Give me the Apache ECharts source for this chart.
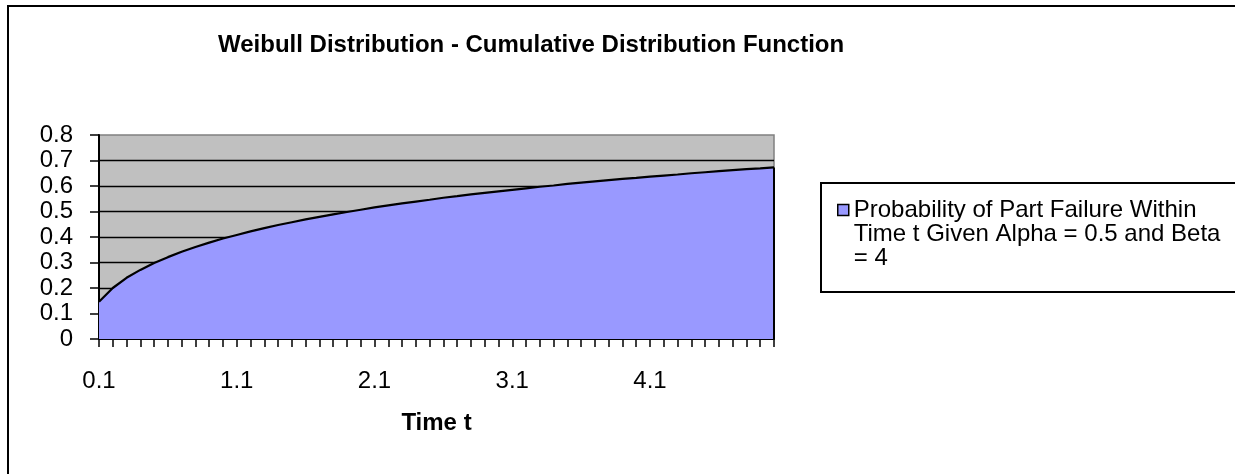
<!DOCTYPE html>
<html>
<head>
<meta charset="utf-8">
<title>Weibull Distribution - Cumulative Distribution Function</title>
<script src="https://cdn.jsdelivr.net/npm/echarts@6/dist/echarts.min.js"></script>
<style>
  html, body { margin: 0; padding: 0; background: #ffffff; }
  #chart { width: 1235px; height: 474px; }
</style>
</head>
<body>
<div id="chart"></div>
<script>
// Time values (category axis)
const timeCategories = [
  '0.1','0.2','0.3','0.4','0.5','0.6','0.7','0.8','0.9','1.0',
  '1.1','1.2','1.3','1.4','1.5','1.6','1.7','1.8','1.9','2.0',
  '2.1','2.2','2.3','2.4','2.5','2.6','2.7','2.8','2.9','3.0',
  '3.1','3.2','3.3','3.4','3.5','3.6','3.7','3.8','3.9','4.0',
  '4.1','4.2','4.3','4.4','4.5','4.6','4.7','4.8','4.9','5.0'
];

// Probability of part failure within time t (alpha = 0.5, beta = 4)
const failureProbability = [
  0.146, 0.200, 0.240, 0.271, 0.298, 0.321, 0.342, 0.361, 0.378, 0.394,
  0.408, 0.422, 0.435, 0.447, 0.458, 0.469, 0.479, 0.489, 0.498, 0.507,
  0.516, 0.524, 0.532, 0.539, 0.546, 0.554, 0.560, 0.567, 0.573, 0.579,
  0.585, 0.591, 0.597, 0.602, 0.608, 0.613, 0.618, 0.623, 0.628, 0.632,
  0.637, 0.641, 0.645, 0.650, 0.654, 0.658, 0.662, 0.666, 0.669, 0.673
];

// Value axis range and tick step
const yMin = 0;
const yMax = 0.8;
const yStep = 0.1;

const seriesName = 'Probability of Part Failure Within Time t Given Alpha = 0.5 and Beta = 4';
const legendLines = ['Probability of Part Failure Within', 'Time t Given Alpha = 0.5 and Beta', '= 4'];

const FONT = "'Liberation Sans', Arial, Helvetica, sans-serif";

const chart = echarts.init(document.getElementById('chart'), null, { renderer: 'canvas' });

const lastIdx = timeCategories.length - 1;

chart.setOption({
  animation: false,
  backgroundColor: '#ffffff',
  textStyle: { fontFamily: FONT, color: '#000' },
  title: {
    text: 'Weibull Distribution - Cumulative Distribution Function',
    left: 218,
    top: 33,
    padding: 0,
    textStyle: { fontFamily: FONT, fontSize: 24, fontWeight: 'bold', color: '#000' }
  },
  graphic: [
    {
      // outer chart frame
      type: 'rect',
      z: -10,
      silent: true,
      shape: { x: 8, y: 6, width: 2000, height: 1000 },
      style: { fill: 'none', stroke: '#000', lineWidth: 2 }
    },
    {
      // legend frame
      type: 'rect',
      z: -5,
      silent: true,
      shape: { x: 821, y: 183, width: 1000, height: 109 },
      style: { fill: '#fff', stroke: '#000', lineWidth: 2 }
    }
  ],
  legend: {
    left: 837,
    top: 150,
    padding: 0,
    orient: 'vertical',
    icon: 'rect',
    itemWidth: 11,
    itemHeight: 11,
    selectedMode: false,
    itemStyle: { borderColor: '#000', borderWidth: 1.5 },
    // two blank lines above keep the marker level with the first text line
    formatter: () => '\n\n' + legendLines.join('\n'),
    textStyle: {
      fontFamily: FONT,
      fontSize: 24,
      lineHeight: 24,
      color: '#000'
    },
    data: [seriesName]
  },
  grid: {
    left: 99,
    top: 135,
    right: 461,
    bottom: 135,
    show: true,
    backgroundColor: '#c0c0c0',
    borderColor: '#808080',
    borderWidth: 1.5,
    containLabel: false
  },
  xAxis: {
    type: 'category',
    data: timeCategories,
    boundaryGap: false,
    name: 'Time t',
    nameLocation: 'middle',
    nameGap: 72,
    nameTextStyle: { fontFamily: FONT, fontSize: 24, fontWeight: 'bold', color: '#000' },
    axisLine: { show: true, lineStyle: { color: '#000', width: 2 } },
    axisTick: { show: true, interval: 0, length: 8, lineStyle: { color: '#000', width: 1.5 } },
    axisLabel: { interval: 9, margin: 30, fontFamily: FONT, fontSize: 24, color: '#000' },
    splitLine: { show: false }
  },
  yAxis: {
    type: 'value',
    min: yMin,
    max: yMax,
    interval: yStep,
    axisLine: { show: true, lineStyle: { color: '#000', width: 2 } },
    axisTick: { show: true, length: 9, lineStyle: { color: '#000', width: 1.5 } },
    axisLabel: {
      margin: 26,
      fontFamily: FONT,
      fontSize: 24,
      color: '#000',
      padding: [4, 0, 0, 0],
      formatter: v => (v === 0 ? '0' : v.toFixed(1))
    },
    splitLine: { show: true, showMinLine: false, showMaxLine: false, lineStyle: { color: '#000', width: 1.3 } }
  },
  series: [
    {
      name: seriesName,
      type: 'line',
      data: failureProbability,
      showSymbol: false,
      symbol: 'none',
      smooth: false,
      lineStyle: { color: '#000', width: 2.2 },
      itemStyle: { color: '#9999ff', borderColor: '#000' },
      areaStyle: { color: '#9999ff', opacity: 1 },
      markLine: {
        silent: true,
        symbol: 'none',
        label: { show: false },
        lineStyle: { color: '#000', width: 2, type: 'solid' },
        data: [[
          { coord: [timeCategories[lastIdx], yMin] },
          { coord: [timeCategories[lastIdx], failureProbability[lastIdx]] }
        ]]
      }
    }
  ]
});
</script>
</body>
</html>
